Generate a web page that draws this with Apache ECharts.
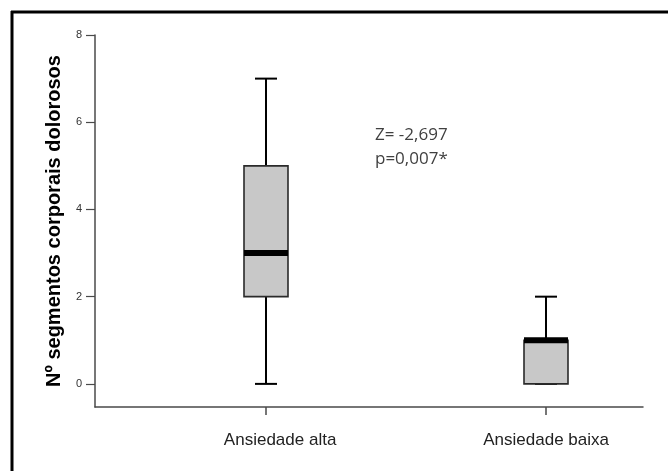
<!DOCTYPE html>
<html>
<head>
<meta charset="utf-8">
<script src="https://cdn.jsdelivr.net/npm/echarts@6/dist/echarts.min.js"></script>
<style>
html,body{margin:0;padding:0;background:#fff;}
#chart{width:668px;height:471px;}
</style>
</head>
<body>
<div id="chart"></div>
<script>
const categories = ['Ansiedade alta', 'Ansiedade baixa'];
const minValues = [0, 0];
const q1Values = [2, 0];
const medianValues = [3, 1];
const q3Values = [5, 1];
const maxValues = [7, 2];
const yTickValues = [0, 2, 4, 6, 8];
const categoryPositions = [0, 1];
const yAxisTitle = 'Nº segmentos corporais dolorosos';
const statLines = ['Z= -2,697', 'p=0,007*'];

const boxData = categories.map((c, i) => [categoryPositions[i], minValues[i], q1Values[i], medianValues[i], q3Values[i], maxValues[i]]);

function renderItem(params, api) {
  const x = api.value(0);
  const pMin = api.coord([x, api.value(1)]);
  const pQ1 = api.coord([x, api.value(2)]);
  const pMed = api.coord([x, api.value(3)]);
  const pQ3 = api.coord([x, api.value(4)]);
  const pMax = api.coord([x, api.value(5)]);
  const cx = Math.round(pMin[0]);
  const hb = 22, hc = 11;
  const whisk = { stroke: '#000', lineWidth: 2 };
  const children = [];
  children.push({ type: 'line', shape: { x1: cx, y1: pQ3[1], x2: cx, y2: pMax[1] }, style: whisk });
  children.push({ type: 'line', shape: { x1: cx, y1: pMin[1], x2: cx, y2: pQ1[1] }, style: whisk });
  children.push({ type: 'line', shape: { x1: cx - hc, y1: pMax[1], x2: cx + hc, y2: pMax[1] }, style: whisk });
  children.push({ type: 'line', shape: { x1: cx - hc, y1: pMin[1], x2: cx + hc, y2: pMin[1] }, style: whisk });
  children.push({ type: 'rect', shape: { x: cx - hb, y: pQ3[1], width: hb * 2, height: pQ1[1] - pQ3[1] }, style: { fill: '#c8c8c8', stroke: '#2a2a2a', lineWidth: 1.6 } });
  children.push({ type: 'line', shape: { x1: cx - hb, y1: pMed[1], x2: cx + hb, y2: pMed[1] }, style: { stroke: '#000', lineWidth: 6 } });
  return { type: 'group', children: children };
}

const chart = echarts.init(document.getElementById('chart'), null, { renderer: 'canvas' });
chart.setOption({
  animation: false,
  backgroundColor: '#fff',
  grid: { left: 95, right: 25, top: 35, bottom: 64 },
  xAxis: {
    type: 'value',
    min: -0.611,
    max: 1.346,
    splitLine: { show: false },
    axisLine: { show: true, onZero: false, lineStyle: { color: '#4a4a4a', width: 1.5 } },
    axisTick: { show: true, customValues: categoryPositions, length: 8, lineStyle: { color: '#4a4a4a', width: 1.5 } },
    axisLabel: {
      customValues: categoryPositions,
      margin: 25,
      fontFamily: 'Liberation Sans',
      fontSize: 17,
      color: '#222',
      formatter: function (v) {
        const i = Math.round(v);
        return i === 0 ? '{a|' + categories[i] + '}' : '{b|' + categories[i] + '}';
      },
      rich: {
        a: { fontFamily: 'Liberation Sans', fontSize: 17, color: '#222', padding: [0, 0, 0, 28] },
        b: { fontFamily: 'Liberation Sans', fontSize: 17, color: '#222' }
      }
    }
  },
  yAxis: {
    type: 'value',
    min: -0.53,
    max: 8,
    name: yAxisTitle,
    nameLocation: 'middle',
    nameGap: 30,
    nameTextStyle: { fontFamily: 'Liberation Sans', fontWeight: 'bold', fontSize: 20, color: '#000' },
    splitLine: { show: false },
    axisLine: { show: true, onZero: false, lineStyle: { color: '#4a4a4a', width: 1.5 } },
    axisTick: { show: true, customValues: yTickValues, length: 9, lineStyle: { color: '#4a4a4a', width: 1.2 } },
    axisLabel: { customValues: yTickValues, margin: 13, fontFamily: 'Liberation Sans', fontSize: 11, color: '#333' }
  },
  series: [{
    type: 'custom',
    renderItem: renderItem,
    data: boxData,
    clip: false,
    encode: { x: 0, y: [1, 2, 3, 4, 5] }
  }],
  graphic: [
    { type: 'line', shape: { x1: 11, y1: 12, x2: 668, y2: 12 }, style: { stroke: '#000', lineWidth: 3 } },
    { type: 'line', shape: { x1: 12, y1: 11, x2: 12, y2: 471 }, style: { stroke: '#000', lineWidth: 3 } },
    { type: 'text', style: { x: 375, y: 135, text: statLines[0], font: '17px "Open Sans"', fill: '#404040', verticalAlign: 'middle' } },
    { type: 'text', style: { x: 375, y: 159, text: statLines[1], font: '17px "Open Sans"', fill: '#404040', verticalAlign: 'middle' } }
  ]
});
</script>
</body>
</html>
